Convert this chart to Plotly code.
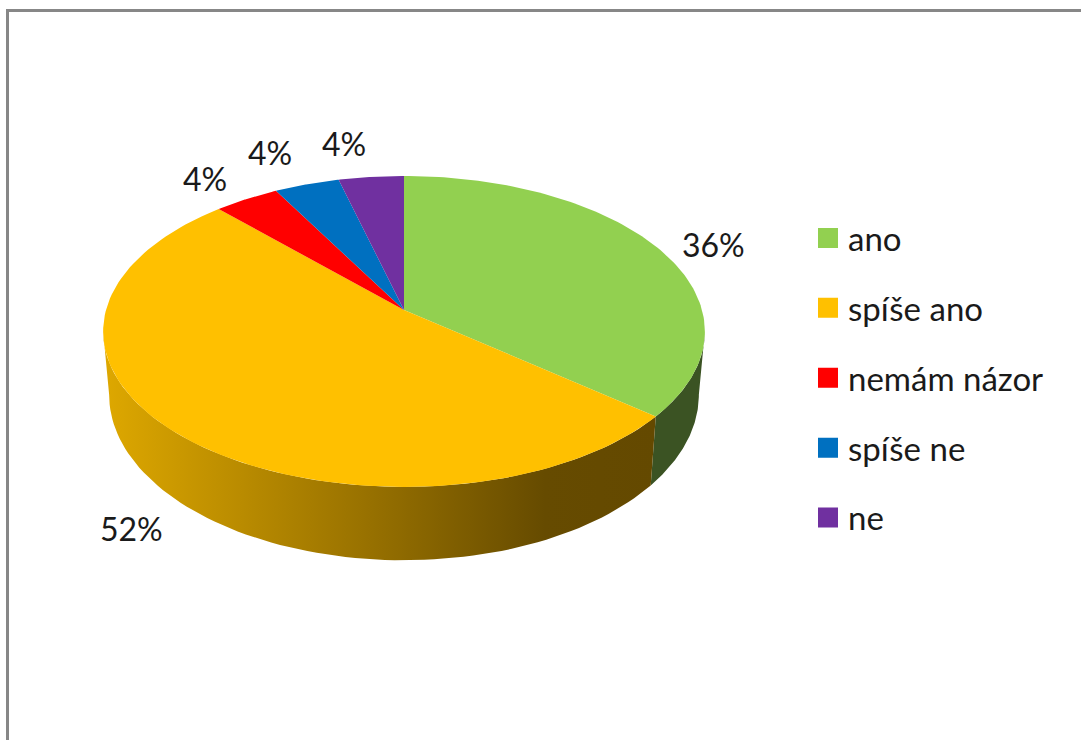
import numpy as np
import plotly.graph_objects as go

categories = ["ano", "spíše ano", "nemám názor", "spíše ne", "ne"]
values = [36, 52, 4, 4, 4]
colors = ["#92D050", "#FFC000", "#FF0000", "#0070C0", "#7030A0"]

# Projection of the tilted disc onto the page
CX, APEX_Y, F, G, K = 404.0, 310.0, 298.0, 152.5, 0.138
BASE_Y, BASE_SX, BASE_SY = 372.0, 0.98, 1.064


def top(theta):
    t = np.radians(theta)
    d = 1 + K * np.cos(t)
    return CX + F * np.sin(t) / d, APEX_Y - G * np.cos(t) / d


def base(theta):
    t = np.radians(theta)
    d = 1 + K * np.cos(t)
    return CX + BASE_SX * F * np.sin(t) / d, BASE_Y - BASE_SY * G * np.cos(t) / d


angles = np.cumsum([0] + values) * 360.0 / sum(values)
RIGHT_EDGE, LEFT_EDGE = 97.9, 262.1


def wall(a, b):
    th = np.linspace(a, b, 80)
    x1, y1 = top(th)
    x2, y2 = base(th[::-1])
    return np.r_[x1, x2, x1[0]], np.r_[y1, y2, y1[0]]


fig = go.Figure()

# Side walls
wx, wy = wall(RIGHT_EDGE, angles[1])
fig.add_trace(go.Scatter(x=wx, y=wy, mode="lines", fill="toself", fillcolor="#3B5323",
                         line=dict(width=0), showlegend=False, hoverinfo="skip"))
wx, wy = wall(angles[1], LEFT_EDGE)
fig.add_trace(go.Scatter(
    x=wx, y=wy, mode="lines", fill="toself", line=dict(width=0),
    fillgradient=dict(type="horizontal", colorscale=[
        [0, "#DEA800"], [0.47, "#997200"], [0.8, "#664B00"], [1, "#644900"]]),
    showlegend=False, hoverinfo="skip"))

# Top face
for i, c in enumerate(colors):
    th = np.linspace(angles[i], angles[i + 1], 120)
    x, y = top(th)
    fig.add_trace(go.Scatter(x=np.r_[CX, x, CX], y=np.r_[APEX_Y, y, APEX_Y], mode="lines",
                             fill="toself", fillcolor=c, line=dict(width=0),
                             showlegend=False, hoverinfo="skip"))

# Legend entries
for i, (name, c) in enumerate(zip(categories, colors)):
    fig.add_trace(go.Scatter(x=[None], y=[None], mode="markers", name=name, legendgroup=name,
                             marker=dict(symbol="square", size=16, color=c,
                                         line=dict(width=4, color=c))))

label_anchor = [(713, 244), (131, 528), (205, 178), (270, 152), (344, 143)]
annotations = [
    dict(x=p[0], y=p[1], xref="x", yref="y", text=f"{v}%", showarrow=False,
         font=dict(family="Lato", size=32, color="#1a1a1a"))
    for p, v in zip(label_anchor, values)
]

fig.update_layout(
    width=1081, height=740, margin=dict(l=0, r=0, t=0, b=0),
    paper_bgcolor="white", plot_bgcolor="white",
    xaxis=dict(range=[0, 1081], visible=False, fixedrange=True),
    yaxis=dict(range=[740, 0], visible=False, fixedrange=True),
    shapes=[
        dict(type="line", xref="x", yref="y", x0=7.5, x1=7.5, y0=9, y1=740,
             line=dict(color="#878787", width=3)),
        dict(type="line", xref="x", yref="y", x0=6, x1=1081, y0=10.5, y1=10.5,
             line=dict(color="#878787", width=3)),
    ],
    annotations=annotations,
    legend=dict(x=808 / 1081, xanchor="left", y=1 - 210 / 740, yanchor="top",
                font=dict(family="Lato", size=33, color="#1a1a1a"),
                tracegroupgap=24, itemsizing="trace", bgcolor="rgba(0,0,0,0)"),
    showlegend=True,
)

fig.write_html("out.html", config=dict(displayModeBar=False),
               post_script="document.body.style.margin='0';document.body.style.overflow='hidden';")
